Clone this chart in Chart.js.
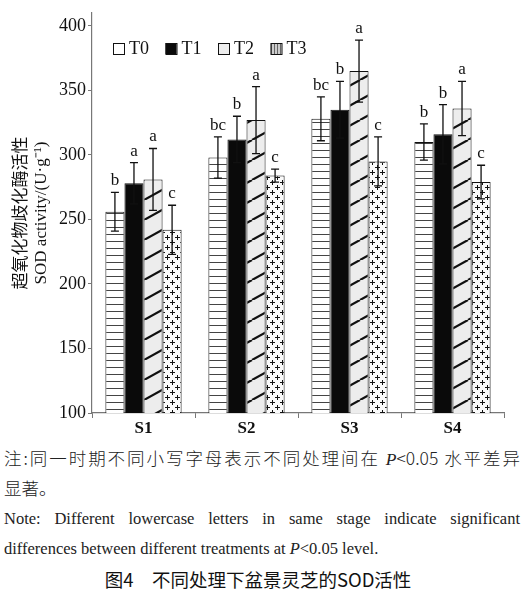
<!DOCTYPE html>
<html>
<head>
<meta charset="utf-8">
<script src="https://cdn.jsdelivr.net/npm/chart.js@4"></script>
<style>
body { margin: 0; background: #fff; width: 528px; height: 599px; overflow: hidden; }
#wrap { position: absolute; left: 0; top: 0; width: 528px; height: 440px; }
.ln { position: absolute; left: 4px; width: 516px; white-space: nowrap; color: #222; }
.cn { font-family: "Noto Sans CJK SC", sans-serif; font-size: 17.5px; font-weight: 300; }
.en { font-family: "Liberation Serif", serif; font-size: 16.5px; }
.just { text-align: justify; text-align-last: justify; }
.cap { position: absolute; left: 0; width: 516px; text-align: center; font-family: "Noto Sans CJK SC", sans-serif; font-size: 18.5px; font-weight: 400; color: #111; }
i { font-family: "Liberation Serif", serif; }
</style>
</head>
<body>
<div id="wrap"><canvas id="sod"></canvas></div>
<div class="ln cn just" style="top:445px">注:同一时期不同小写字母表示不同处理间在 <i>P</i>&lt;0.05 水平差异</div>
<div class="ln cn" style="top:475px">显著。</div>
<div class="ln en just" style="top:509px">Note: Different lowercase letters in same stage indicate significant</div>
<div class="ln en" style="top:539px">differences between different treatments at <i>P</i>&lt;0.05 level.</div>
<div class="cap" style="top:566px">图4　不同处理下盆景灵芝的SOD活性</div>
<script>
var stages = ['S1', 'S2', 'S3', 'S4'];
var treatments = ['T0', 'T1', 'T2', 'T3'];

// mean SOD activity per treatment, one value per stage
var t0 = [256, 298, 328, 310];
var t1 = [278, 312, 335, 316];
var t2 = [281, 327, 365, 336];
var t3 = [242, 284, 295, 279];

// standard errors
var t0Err = [15, 16, 17, 14];
var t1Err = [16, 18, 22, 23];
var t2Err = [24, 26, 24, 21];
var t3Err = [19, 5, 19, 13];

// significance letters
var t0Sig = ['b', 'bc', 'bc', 'b'];
var t1Sig = ['a', 'b', 'b', 'b'];
var t2Sig = ['a', 'a', 'a', 'a'];
var t3Sig = ['c', 'c', 'c', 'c'];

var yTicks = [100, 150, 200, 250, 300, 350, 400];

function makeTile(w, h, draw) {
    var c = document.createElement('canvas');
    c.width = w;
    c.height = h;
    var g = c.getContext('2d');
    draw(g, w, h);
    return document.getElementById('sod').getContext('2d').createPattern(c, 'repeat');
}

// horizontal lines
var hatchH = makeTile(8, 7, function(g, w, h) {
    g.fillStyle = '#fff';
    g.fillRect(0, 0, w, h);
    g.fillStyle = '#444';
    g.fillRect(0, 3, w, 1);
});

// thick rising diagonals on light gray
var hatchD = makeTile(36, 20, function(g, w, h) {
    g.fillStyle = '#ededed';
    g.fillRect(0, 0, w, h);
    g.strokeStyle = '#111';
    g.lineWidth = 2.2;
    [-1, 0, 1].forEach(function(k) {
        g.beginPath();
        g.moveTo(k * w, h);
        g.lineTo((k + 1) * w, 0);
        g.stroke();
    });
});

// plus signs
var hatchP = makeTile(10, 10, function(g, w, h) {
    g.fillStyle = '#fafafa';
    g.fillRect(0, 0, w, h);
    g.fillStyle = '#111';
    g.fillRect(0, 2, 5, 1);
    g.fillRect(2, 0, 1, 5);
    g.fillRect(5, 7, 5, 1);
    g.fillRect(7, 5, 1, 5);
});

// legend swatch for T3: gray with vertical lines
var stripeV = makeTile(3, 3, function(g, w, h) {
    g.fillStyle = '#ccc';
    g.fillRect(0, 0, w, h);
    g.fillStyle = '#666';
    g.fillRect(1, 0, 1, h);
});

var errs = [t0Err, t1Err, t2Err, t3Err];
var sigs = [t0Sig, t1Sig, t2Sig, t3Sig];

var errorBars = {
    id: 'errorBars',
    afterDatasetsDraw: function(chart) {
        var ctx = chart.ctx;
        var y = chart.scales.y;
        ctx.save();
        ctx.strokeStyle = '#111';
        ctx.fillStyle = '#111';
        ctx.lineWidth = 1.3;
        ctx.font = '17px "Liberation Serif"';
        ctx.textAlign = 'center';
        ctx.textBaseline = 'bottom';
        chart.data.datasets.forEach(function(ds, i) {
            chart.getDatasetMeta(i).data.forEach(function(bar, j) {
                var v = ds.data[j];
                var top = y.getPixelForValue(v + errs[i][j]);
                var bot = y.getPixelForValue(v - errs[i][j]);
                ctx.beginPath();
                ctx.moveTo(bar.x, top);
                ctx.lineTo(bar.x, bot);
                ctx.moveTo(bar.x - 4, top);
                ctx.lineTo(bar.x + 4, top);
                ctx.moveTo(bar.x - 4, bot);
                ctx.lineTo(bar.x + 4, bot);
                ctx.stroke();
                ctx.fillText(sigs[i][j], bar.x, top - 3);
            });
        });
        ctx.restore();
    }
};

var boxLegend = {
    id: 'boxLegend',
    afterDraw: function(chart) {
        var ctx = chart.ctx;
        ctx.save();
        ctx.font = '18px "Liberation Serif"';
        ctx.textBaseline = 'middle';
        chart.data.datasets.forEach(function(ds, i) {
            var x = 113 + i * 52.5;
            ctx.fillStyle = ds.legendFill;
            ctx.fillRect(x, 43, 11, 11);
            ctx.strokeStyle = '#111';
            ctx.lineWidth = 1;
            ctx.strokeRect(x + 0.5, 43.5, 11, 11);
            ctx.fillStyle = '#111';
            ctx.fillText(ds.label, x + 16, 49);
        });
        ctx.restore();
    }
};

new Chart(document.getElementById('sod'), {
    type: 'bar',
    data: {
        labels: stages,
        datasets: [
            { label: treatments[0], data: t0, backgroundColor: hatchH, legendFill: '#fff' },
            { label: treatments[1], data: t1, backgroundColor: '#0a0a0a', legendFill: '#0a0a0a' },
            { label: treatments[2], data: t2, backgroundColor: hatchD, legendFill: '#ededed' },
            { label: treatments[3], data: t3, backgroundColor: hatchP, legendFill: stripeV }
        ].map(function(d) {
            d.borderColor = '#111';
            d.borderWidth = 1;
            d.categoryPercentage = 0.74;
            d.barPercentage = 1;
            return d;
        })
    },
    options: {
        responsive: true,
        maintainAspectRatio: false,
        animation: false,
        layout: { padding: { top: 13, right: 24, left: 12, bottom: 0 } },
        plugins: {
            legend: { display: false },
            tooltip: { enabled: false }
        },
        scales: {
            x: {
                grid: { display: true, offset: true, drawOnChartArea: false, color: '#777', tickLength: 5 },
                border: { color: '#777', width: 1.2 },
                ticks: { color: '#111', font: { family: 'Liberation Serif', size: 17, weight: 'bold' }, padding: 0 },
                afterFit: function(s) { s.height = 27; }
            },
            y: {
                min: 100,
                max: 410,
                afterBuildTicks: function(s) {
                    s.ticks = yTicks.map(function(v) { return { value: v }; });
                },
                grid: { display: true, drawOnChartArea: false, color: '#777', tickLength: 4 },
                border: { color: '#777', width: 1.2 },
                ticks: { color: '#111', font: { family: 'Liberation Serif', size: 18 }, padding: 2 },
                title: {
                    display: true,
                    text: ['超氧化物歧化酶活性', 'SOD activity/(U·g⁻¹)'],
                    color: '#111',
                    font: { family: '"Liberation Serif", "Noto Sans CJK SC"', size: 17, lineHeight: 1.15 },
                    padding: { top: 0, bottom: 2 }
                },
                afterFit: function(s) { s.width = 80; }
            }
        }
    },
    plugins: [errorBars, boxLegend]
});
</script>
</body>
</html>
